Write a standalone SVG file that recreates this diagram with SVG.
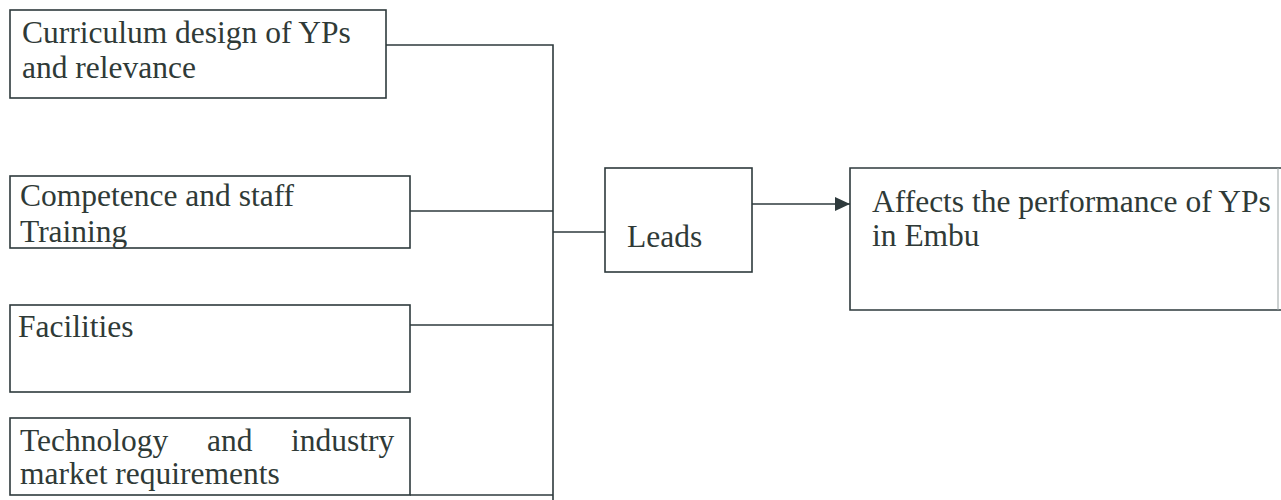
<svg xmlns="http://www.w3.org/2000/svg" width="1281" height="500" viewBox="0 0 1281 500">
<style>
.box{fill:none;stroke:#2e3a3c;stroke-width:1.6}
.con{fill:none;stroke:#2e3a3c;stroke-width:1.6}
text{font-family:"Liberation Serif","Times New Roman",serif;font-size:31.5px;fill:#2f3a37}
</style>
<defs>
<marker id="ah" markerWidth="16" markerHeight="16" refX="15" refY="8" orient="auto" markerUnits="userSpaceOnUse">
<path d="M0,1 L15,8 L0,15 Z" fill="#2e3a3c"/>
</marker>
</defs>
<rect width="1281" height="500" fill="#ffffff"/>
<g id="n1">
<rect class="box" x="10" y="10" width="376" height="88"/>
<text x="22" y="43">Curriculum design of YPs</text>
<text x="22" y="78">and relevance</text>
</g>
<g id="n2">
<rect class="box" x="10" y="176" width="400" height="72"/>
<text x="20" y="206">Competence and staff</text>
<text x="20" y="242">Training</text>
</g>
<g id="n3">
<rect class="box" x="10" y="305" width="400" height="87"/>
<text x="18" y="337">Facilities</text>
</g>
<g id="n4">
<rect class="box" x="10" y="418" width="400" height="77"/>
<text x="20" y="451">Technology</text>
<text x="207" y="451">and</text>
<text x="291" y="451">industry</text>
<text x="20" y="484">market requirements</text>
</g>
<g id="leads">
<rect class="box" x="605" y="168" width="147" height="104"/>
<text x="627" y="247">Leads</text>
</g>
<g id="affects">
<path class="box" d="M1281,168 H850 V310 H1281"/>
<line x1="1278" y1="168" x2="1278" y2="310" stroke="#9aa3a3" stroke-width="1"/>
<text x="872" y="212">Affects the performance of YPs</text>
<text x="872" y="246">in Embu</text>
</g>
<g id="connectors">
<path class="con" d="M386,45 H553 V500"/>
<path class="con" d="M410,211 H553"/>
<path class="con" d="M410,325 H553"/>
<path class="con" d="M410,495 H553"/>
<path class="con" d="M553,232 H605"/>
<path class="con" d="M752,204 H850" marker-end="url(#ah)"/>
</g>
</svg>
